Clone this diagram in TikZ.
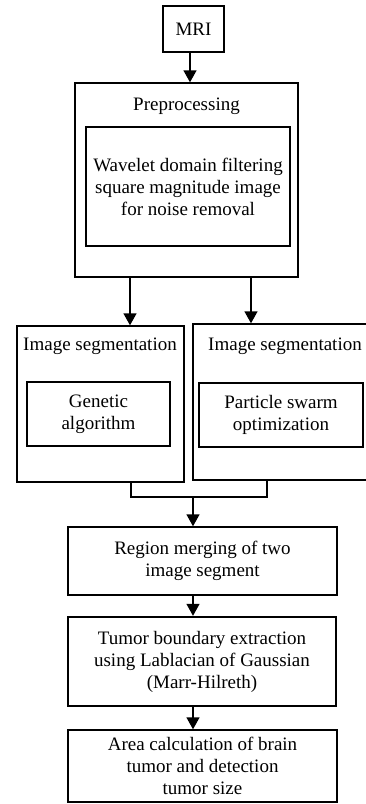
\documentclass[tikz,border=0pt]{standalone}
\usepackage{fontspec}
\setmainfont{Liberation Serif}
\usetikzlibrary{arrows.meta}
\begin{document}
\begin{tikzpicture}[x=1pt,y=-1pt,
  every node/.style={font=\fontsize{19}{22}\selectfont, inner sep=0pt, align=center},
  box/.style={draw, line width=1.4pt, anchor=center},
  thickbox/.style={draw, line width=2.4pt, anchor=center},
  title/.style={anchor=center},
  arr/.style={line width=1.4pt, -{Triangle[length=12pt,width=13pt]}},
  ln/.style={line width=1.4pt}]
\useasboundingbox (0,0) rectangle (366,804);
% MRI
\node[box, minimum width=61pt, minimum height=46pt] (mri) at (193.5,29) {MRI};
% Preprocessing
\node[box, minimum width=223pt, minimum height=194pt] (pre) at (186.5,180) {};
\node[title] (pret) at (186.5,106) {Preprocessing};
\node[box, minimum width=204pt, minimum height=119pt] (prei) at (188,186.5) {Wavelet domain filtering\\square magnitude image\\for noise removal};
% Segmentation left
\node[box, minimum width=167pt, minimum height=156pt] (segl) at (100.5,404) {};
\node[title] (seglt) at (100,346) {Image segmentation};
\node[box, minimum width=143pt, minimum height=64pt] (segli) at (98.5,414) {Genetic\\algorithm};
% Segmentation right (cut off at right edge)
\node[box, minimum width=176pt, minimum height=156pt] (segr) at (281,402) {};
\node[title] (segrt) at (285,346) {Image segmentation};
\node[box, minimum width=164pt, minimum height=64pt] (segri) at (281,415) {Particle swarm\\optimization};
% Merge
\node[box, minimum width=269pt, minimum height=68pt] (merge) at (202.5,561) {Region merging of two\\image segment};
\node[thickbox, minimum width=268pt, minimum height=89pt] (tumor) at (202,661.5) {Tumor boundary extraction\\using Lablacian of Gaussian\\(Marr-Hilreth)};
\node[box, minimum width=269pt, minimum height=72pt] (area) at (202.5,766) {Area calculation of brain\\tumor and detection\\tumor size};
% connectors
\coordinate (a1) at (130,0);
\coordinate (a2) at (251,0);
\coordinate (b1) at (131,0);
\coordinate (b2) at (267,0);
\coordinate (j) at (193,497);
\draw[arr] (mri.south -| 190,0) -- (pre.north -| 190,0);
\draw[arr] (pre.south -| a1) -- (segl.north -| a1);
\draw[arr] (pre.south -| a2) -- (segr.north -| a2);
\draw[ln] (segl.south -| b1) |- (j) -| (segr.south -| b2);
\draw[arr] (j) -- (merge.north -| j);
\draw[arr] (merge.south -| j) -- (tumor.north -| j);
\draw[arr] (tumor.south -| j) -- (area.north -| j);
\end{tikzpicture}
\end{document}
